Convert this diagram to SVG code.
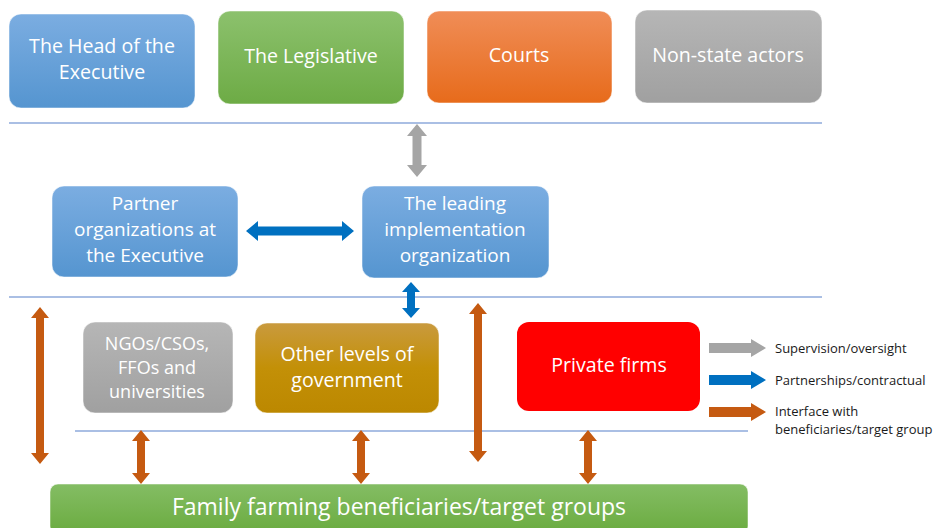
<svg xmlns="http://www.w3.org/2000/svg" width="934" height="528" viewBox="0 0 934 528">
<defs>
<linearGradient id="gBlue" x1="0" y1="0" x2="0" y2="1"><stop offset="0" stop-color="#7badE1"/><stop offset="1" stop-color="#5595d0"/></linearGradient>
<linearGradient id="gGreen" x1="0" y1="0" x2="0" y2="1"><stop offset="0" stop-color="#8cc16d"/><stop offset="1" stop-color="#6dab45"/></linearGradient>
<linearGradient id="gOrange" x1="0" y1="0" x2="0" y2="1"><stop offset="0" stop-color="#f08d57"/><stop offset="1" stop-color="#e76b1b"/></linearGradient>
<linearGradient id="gGray" x1="0" y1="0" x2="0" y2="1"><stop offset="0" stop-color="#b6b6b6"/><stop offset="1" stop-color="#a0a0a0"/></linearGradient>
<linearGradient id="gGold" x1="0" y1="0" x2="0" y2="1"><stop offset="0" stop-color="#c99a3e"/><stop offset="0.5" stop-color="#c39007"/><stop offset="1" stop-color="#bc8800"/></linearGradient>
<linearGradient id="gFarm" x1="0" y1="0" x2="0" y2="1"><stop offset="0" stop-color="#84bd64"/><stop offset="1" stop-color="#6aab3f"/></linearGradient>
</defs>
<style>
.box{stroke:#ffffff;stroke-opacity:0.5;stroke-width:1}
.t{font-family:"Open Sans","Liberation Sans",sans-serif;fill:#ffffff;text-anchor:middle}
.t19{font-size:19.6px}
.t3{font-size:19px}
.t17{font-size:18px}
.lg{font-family:"Open Sans","Liberation Sans",sans-serif;font-size:13px;fill:#1a1a1a}
.sep{stroke:#8eaadb;stroke-width:1.3;fill:none}
.ag{fill:#a5a5a5}
.ab{fill:#0070c0}
.ao{fill:#c55a11}
</style>

<g id="separators">
<line class="sep" x1="9" y1="123" x2="822" y2="123"/>
<line class="sep" x1="9" y1="297" x2="822" y2="297"/>
<line class="sep" x1="75" y1="431" x2="748" y2="431"/>
</g>

<g id="head-executive"><rect class="box" x="9" y="14" width="186" height="94" rx="12" fill="url(#gBlue)"/><text class="t t19" x="102" y="53">The Head of the</text><text class="t t19" x="102" y="79">Executive</text></g>
<g id="legislative"><rect class="box" x="218" y="11" width="186" height="93" rx="12" fill="url(#gGreen)"/><text class="t t19" x="311" y="63">The Legislative</text></g>
<g id="courts"><rect class="box" x="427" y="11" width="185" height="92" rx="12" fill="url(#gOrange)"/><text class="t t19" x="519" y="62">Courts</text></g>
<g id="non-state"><rect class="box" x="635" y="10" width="187" height="93" rx="12" fill="url(#gGray)"/><text class="t t19" x="728" y="62">Non-state actors</text></g>

<g id="partner"><rect class="box" x="52" y="186" width="186" height="91" rx="12" fill="url(#gBlue)"/><text class="t t3" x="145" y="210">Partner</text><text class="t t3" x="145" y="236">organizations at</text><text class="t t3" x="145" y="262">the Executive</text></g>
<g id="leading"><rect class="box" x="362" y="186" width="187" height="92" rx="12" fill="url(#gBlue)"/><text class="t t3" x="455" y="210">The leading</text><text class="t t3" x="455" y="236">implementation</text><text class="t t3" x="455" y="262">organization</text></g>

<g id="ngos"><rect class="box" x="83" y="322" width="150" height="91" rx="12" fill="url(#gGray)"/><text class="t t17" x="157" y="350">NGOs/CSOs,</text><text class="t t17" x="157" y="374">FFOs and</text><text class="t t17" x="157" y="398">universities</text></g>
<g id="other-levels"><rect class="box" x="255" y="323" width="184" height="90" rx="12" fill="url(#gGold)"/><text class="t t19" x="347" y="361">Other levels of</text><text class="t t19" x="347" y="387">government</text></g>
<g id="private"><rect x="517" y="322" width="183" height="89" rx="12" fill="#ff0000"/><text class="t t19" x="609" y="372">Private firms</text></g>
<g id="farm"><rect class="box" x="50" y="484" width="698" height="50" rx="8" fill="url(#gFarm)"/><text class="t" style="font-size:23px" x="399" y="515">Family farming beneficiaries/target groups</text></g>

<g id="connectors">
<polygon class="ag" points="417,124 427,136 421.5,136 421.5,165 427,165 417,177 407,165 412.5,165 412.5,136 407,136"/>
<polygon class="ab" points="246,231 258,221 258,226.5 342,226.5 342,221 354,231 342,241 342,235.5 258,235.5 258,241"/>
<polygon class="ab" points="411,282 420,292 415,292 415,308 420,308 411,318 402,308 407,308 407,292 402,292"/>
<polygon class="ao" points="40,307 49,318 44,318 44,453 49,453 40,464 31,453 36,453 36,318 31,318"/>
<polygon class="ao" points="478,303 487,314 482,314 482,451 487,451 478,462 469,451 474,451 474,314 469,314"/>
<polygon class="ao" points="141,430 150,441 145,441 145,473 150,473 141,484 132,473 137,473 137,441 132,441"/>
<polygon class="ao" points="361,430 370,441 365,441 365,473 370,473 361,484 352,473 357,473 357,441 352,441"/>
<polygon class="ao" points="588,430 597,441 592,441 592,473 597,473 588,484 579,473 584,473 584,441 579,441"/>
</g>

<g id="legend">
<polygon class="ag" points="709,343 751,343 751,339 766,348 751,357 751,353 709,353"/>
<polygon class="ab" points="709,375 751,375 751,371 766,380 751,389 751,385 709,385"/>
<polygon class="ao" points="709,407 751,407 751,403 766,412 751,421 751,417 709,417"/>
<text class="lg" x="775" y="353">Supervision/oversight</text>
<text class="lg" x="775" y="385">Partnerships/contractual</text>
<text class="lg" x="775" y="416">Interface with</text>
<text class="lg" x="775" y="434">beneficiaries/target group</text>
</g>
</svg>
